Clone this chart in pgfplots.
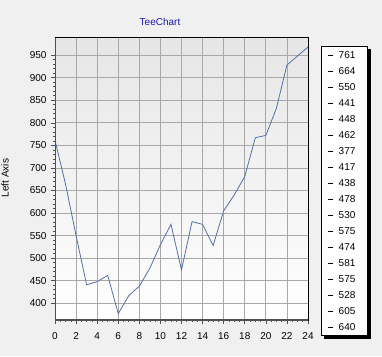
\documentclass[border=0pt]{standalone}
\usepackage{pgfplots}
\pgfplotsset{compat=1.18}
\usepackage{fontspec}
\setmainfont{Liberation Sans}
\definecolor{bg}{HTML}{F0F0F0}
\definecolor{wallTop}{HTML}{E6E6E6}
\definecolor{gridc}{HTML}{A8A8A8}
\definecolor{serc}{HTML}{5670AA}
\definecolor{axc}{HTML}{505050}
\definecolor{titc}{HTML}{1A1AA8}
\pgfplotstableread{
x y
0 761
1 664
2 550
3 441
4 448
5 462
6 377
7 417
8 438
9 478
10 530
11 575
12 474
13 581
14 575
15 528
16 605
17 640
18 681
19 767
20 772
21 832
22 928
23 948
24 968
}\datatable
\begin{document}
\begin{tikzpicture}
\fill[bg] (0pt,0pt) rectangle (382pt,356pt);
\path[use as bounding box] (0pt,0pt) rectangle (382pt,356pt);
\begin{axis}[
  at={(55pt,36pt)}, anchor=south west,
  scale only axis, width=253pt, height=282pt,
  xmin=0, xmax=24, ymin=363, ymax=988,
  xtick={0,2,...,24}, ytick={400,450,...,950},
  minor x tick num=3, minor y tick num=4,
  xtick pos=bottom, ytick pos=left,
  tick align=outside,
  major tick length=4pt, minor tick length=2pt,
  every tick/.style={axc, line width=0.6pt},
  grid=major,
  major grid style={gridc, line width=0.8pt},
  axis line style={black, line width=1pt},
  axis background/.style={top color=wallTop, bottom color=white},
  tick label style={font=\fontsize{10}{12}\selectfont, black},
  /pgf/number format/assume math mode=true,
  /pgf/number format/1000 sep={},
  xticklabel style={yshift=-5pt},
  yticklabel style={xshift=-1pt},
]
\addplot[serc, line width=0.8pt] table[x=x,y=y] {\datatable};
\draw[axc, line width=2pt] (rel axis cs:0,1) -- (rel axis cs:0,0) -- (rel axis cs:1,0);
\end{axis}
% legend
\fill[black] (324pt,17.5pt) rectangle (370.5pt,307pt);
\filldraw[fill=white, draw=black, line width=0.8pt] (321pt,21pt) rectangle (367.5pt,310pt);
\foreach \v [count=\i from 0] in {761,664,550,441,448,462,377,417,438,478,530,575,474,581,575,528,605,640} {
  \pgfmathsetmacro{\yy}{301-16*\i}
  \draw[black, line width=0.8pt] (327.5pt,\yy pt) -- (332.5pt,\yy pt);
  \node[anchor=west, inner sep=0pt, font=\fontsize{10}{12}\selectfont] at (338.5pt,\yy pt) {\v};
}
\node[titc, font=\fontsize{10}{12}\selectfont] at (160pt,334pt) {TeeChart};
\node[black, rotate=90, font=\fontsize{10}{12}\selectfont] at (5pt,178pt) {Left Axis};
\end{tikzpicture}
\end{document}
